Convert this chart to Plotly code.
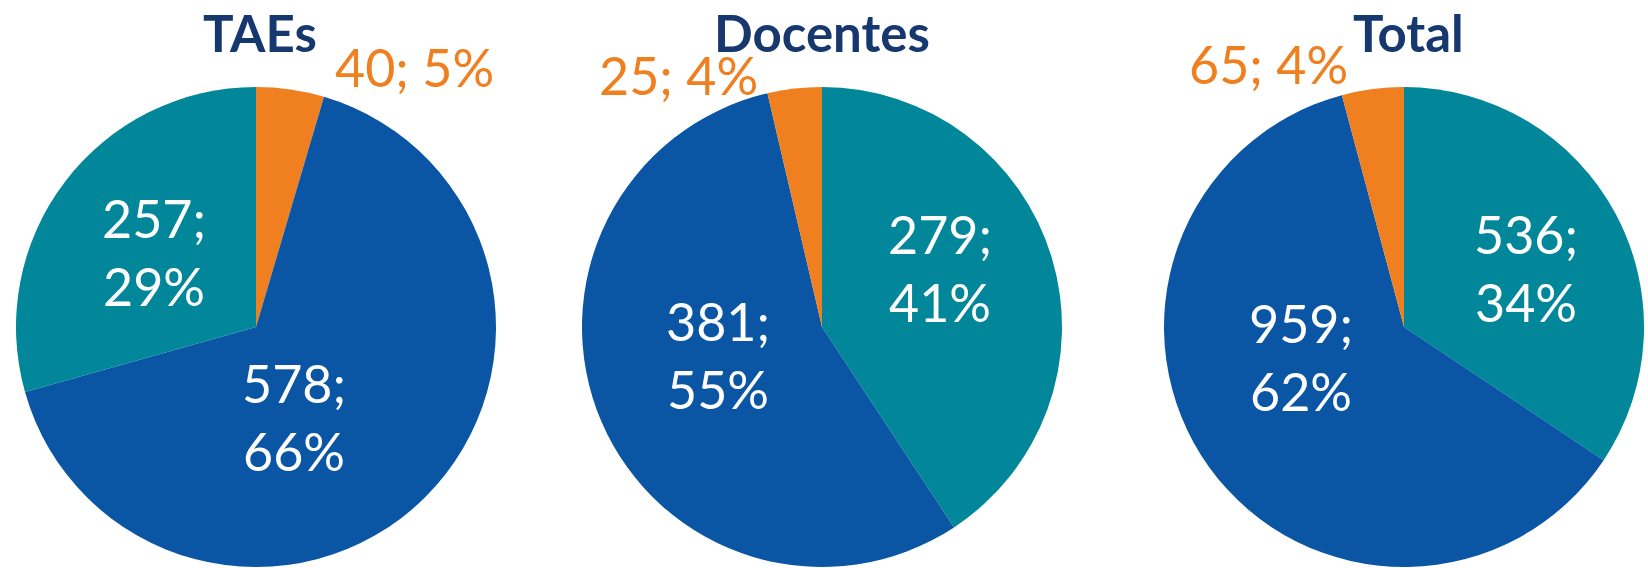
import plotly.graph_objects as go

# ---- data ----
groups = ["TAEs", "Docentes", "Total"]
categories = ["Categoria 1", "Categoria 2", "Categoria 3"]  # teal, blue, orange
tae_values = [257, 578, 40]
doc_values = [279, 381, 25]
tot_values = [536, 959, 65]
tae_pct = [29, 66, 5]
doc_pct = [41, 55, 4]
tot_pct = [34, 62, 4]

values = [tae_values, doc_values, tot_values]
pcts = [tae_pct, doc_pct, tot_pct]

# ---- style / layout ----
W, H = 1648, 568
colors = ["#02869a", "#0b56a4", "#ef7f1f"]
label_colors = ["white", "white", "#ef7f1f"]
title_color = "#16386f"
FONT = "Lato, 'Open Sans', sans-serif"
# slice order (clockwise from 12 o'clock) for each pie
slice_order = [[2, 1, 0], [0, 1, 2], [0, 1, 2]]
centers_x = [256, 822, 1404]
center_y = 327
R = 240
title_x = [260, 822, 1408]
# label centers in pixels (per pie: teal, blue, orange)
label_pos = [
    [(154, 252), (294, 417), (414, 67)],
    [(940, 268), (718, 355), (678, 75)],
    [(1526, 268), (1301, 357), (1268, 64)],
]

fig = go.Figure()
annotations = []
for i, g in enumerate(groups):
    cx = centers_x[i]
    order = slice_order[i]
    fig.add_trace(go.Pie(
        labels=[categories[k] for k in order],
        values=[values[i][k] for k in order],
        sort=False,
        direction="clockwise",
        rotation=0,
        marker=dict(colors=[colors[k] for k in order], line=dict(width=0)),
        textinfo="none",
        hoverinfo="label+value+percent",
        showlegend=False,
        domain=dict(x=[(cx - R) / W, (cx + R) / W],
                    y=[(H - center_y - R) / H, (H - center_y + R) / H]),
        name=g,
    ))
    annotations.append(dict(
        text=g, x=title_x[i] / W, y=1, xref="paper", yref="paper",
        xanchor="center", yanchor="top", showarrow=False,
        font=dict(family=FONT, size=51, color=title_color, weight="bold"),
    ))
    for j in range(len(categories)):
        v, p = values[i][j], pcts[i][j]
        txt = f"{v}; {p}%" if j == 2 else f"{v};<br>{p}%"
        lx, ly = label_pos[i][j]
        annotations.append(dict(
            text=txt, x=lx / W, y=1 - ly / H, xref="paper", yref="paper",
            xanchor="center", yanchor="middle", showarrow=False,
            font=dict(family=FONT, size=52, color=label_colors[j]),
        ))

fig.update_layout(
    width=W, height=H,
    margin=dict(l=0, r=0, t=0, b=0),
    paper_bgcolor="white", plot_bgcolor="white",
    annotations=annotations,
)
fig.write_html("out.html", config={"displayModeBar": False},
               post_script="document.body.style.margin='0px';")
